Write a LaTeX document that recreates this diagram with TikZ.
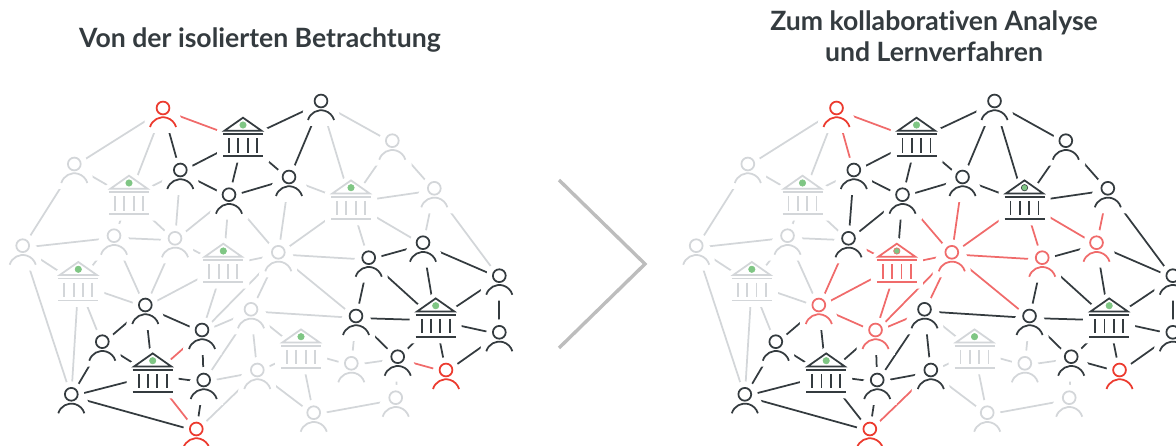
\documentclass[tikz,border=0pt]{standalone}
\usepackage{fontspec}
\setmainfont{Lato}[Ligatures=NoCommon]
\definecolor{cK}{HTML}{343B3F}
\definecolor{cG}{HTML}{D3D6D9}
\definecolor{cR}{HTML}{EC3A2E}
\definecolor{cS}{HTML}{F06B6B}
\definecolor{cD}{HTML}{7FC684}
\definecolor{cC}{HTML}{BDBDBD}
\pgfdeclarelayer{edgelayer}
\pgfdeclarelayer{halolayer}
\pgfsetlayers{edgelayer,halolayer,main}
\tikzset{
  phub/.style={circle,minimum size=10bp,inner sep=0pt,outer sep=0pt},
  bhub/.style={circle,minimum size=16bp,inner sep=0pt,outer sep=0pt},
  icon/.style={line width=1.75bp},
  edge/.style={line width=1.75bp},
  head/.style={font=\bfseries\fontsize{26.6bp}{31bp}\selectfont,text=cK,inner sep=0pt,align=center,anchor=base},
}
\newcommand\px{l}
\newcommand\pp[4]{%
  \node[phub] (\px#1) at (#2,#3+2) {};
  \begin{pgfonlayer}{halolayer}
  \begin{scope}[shift={(#2,#3)}]
    \fill[white] (0,0) circle[radius=13bp];
    \fill[white] (-13.5,0) -- (13.5,0) -- (18,10) -- (19.5,25) -- (-19.5,25) -- (-18,10) -- cycle;
  \end{scope}
  \end{pgfonlayer}
  \begin{scope}[shift={(#2,#3)},icon,draw=#4]
    \draw (0,0) circle[radius=6.4bp];
    \draw (-13,19) arc[start angle=163.4,end angle=16.6,radius=13.6bp];
  \end{scope}}
\newcommand\bk[5]{%
  \node[bhub] (\px#1) at (#2,#3+22) {};
  \begin{pgfonlayer}{halolayer}
  \begin{scope}[shift={(#2,#3)}]
    \fill[white] (0,-7) -- (26,12) -- (26,45) -- (-26,45) -- (-26,12) -- cycle;
  \end{scope}
  \end{pgfonlayer}
  \begin{scope}[shift={(#2,#3)},icon,draw=#4]
    \draw[line join=miter] (-18.5,13) -- (0,0) -- (18.5,13) -- cycle;
    \draw (-20,16.6) -- (20,16.6);
    \foreach \cx in {-14,-4.65,4.65,14} \draw (\cx,20.6) -- (\cx,35);
    \draw (-20,38.6) -- (20,38.6);
    \fill[cD,draw=#5,line width=.6bp] (0,7.3) circle[radius=3.2bp];
  \end{scope}}
\newcommand\eds[2]{\begin{pgfonlayer}{edgelayer}\foreach \a/\b in {#2} \draw[edge,#1] (\px\a) -- (\px\b);\end{pgfonlayer}}
\begin{document}
\begin{tikzpicture}[x=1bp,y=-1bp]
\useasboundingbox (0,0) rectangle (1176,446);
\node[head] (t1) at (260,47.5) {Von der isolierten Betrachtung};
\node[head] (t2) at (934,31) {Zum kollaborativen Analyse};
\node[head] (t3) at (934,62) {und Lernverfahren};
\coordinate (c1) at (559,180);
\coordinate (c2) at (645,264);
\coordinate (c3) at (559,348);
\draw[cC,line width=3.4bp] (c1) -- (c2) -- (c3);
% left panel
\foreach \n/\x/\y/\c in {A/163/108/cR,B/74.3/164/cG,C/180.3/170/cK,D/229/194.7/cK,E/289/177/cK,F/22.7/245.7/cG,G/114/235.7/cG,H/175/238.3/cG,I/278.3/252.3/cG,J/321/101/cK,K/392.3/140.7/cG,L/434.3/188.3/cG,M/423/242.7/cK,N/368.7/257.7/cK,O/145.3/305/cK,P/202/330/cK,Q/102.3/341.7/cK,R/203.7/380/cK,S/71.3/394.3/cK,T/196.3/429/cR,U/251/309.3/cG,V/257.3/370/cG,W/356/316/cK,X/397.7/356.7/cK,Y/446/370/cR,Z/499.3/275.7/cK,AA/499.3/332.3/cK,AB/351.3/363.3/cG,AC/395.7/397.7/cG,AD/313.7/412.7/cG}
  {\pp{\n}{\x}{\y}{\c}}
\foreach \n/\x/\y/\c in {ba/243/117.7/cK,bb/129/175.7/cG,bc/223.3/243.7/cG,bd/78.3/262/cG,be/152.7/353.4/cK,bf/301/329.4/cG,bg/435.7/298.4/cK,bh/351/180.4/cG}
  {\bk{\n}{\x}{\y}{\c}{cD}}
\eds{cG}{A/B,A/bb,J/bh,J/K,K/bh,K/L,L/bh,L/M,L/Z,bh/E,bh/I,bh/N,bh/M,I/N,B/bb,bb/C,B/F,bb/G,bb/H,C/H,D/H,D/bc,E/I,D/I,H/bc,G/H,F/G,bc/I,F/bd,G/bd,G/O,H/O,bc/O,bc/P,bd/O,bd/S,bd/Q,F/S,P/U,P/I,V/R,R/U,U/V,T/V,I/W,U/W,I/U,U/bf,V/bf,bf/AB,AB/X,W/AB,X/AC,AD/AC,bf/AD,V/AD}
\eds{cK}{A/C,ba/J,ba/C,ba/D,ba/E,J/E,M/N,M/Z,C/D,D/E,O/Q,O/P,O/be,Q/be,Q/S,S/be,S/T,be/R,P/R,R/T,N/W,N/bg,M/bg,bg/Z,W/bg,W/X,X/bg,bg/AA,Z/AA,bg/Y,Y/AA}
\eds{cS}{A/ba,be/P,be/T,X/Y}
% right panel
\begin{scope}[xshift=673.5bp]
\renewcommand\px{r}
\foreach \n/\x/\y/\c in {A/163/108/cR,B/74.3/164/cG,C/180.3/170/cK,D/229/194.7/cK,E/289/177/cK,F/22.7/245.7/cG,G/114/235.7/cG,H/175/238.3/cK,I/278.3/252.3/cS,J/321/101/cK,K/392.3/140.7/cK,L/434.3/188.3/cK,M/423/242.7/cS,N/368.7/257.7/cS,O/145.3/305/cS,P/202/330/cS,Q/102.3/341.7/cK,R/203.7/380/cK,S/71.3/394.3/cK,T/196.3/429/cR,U/251/309.3/cK,V/257.3/370/cK,W/356/316/cK,X/397.7/356.7/cK,Y/446/370/cR,Z/499.3/275.7/cK,AA/499.3/332.3/cK,AB/351.3/363.3/cG,AC/395.7/397.7/cG,AD/313.7/412.7/cG}
  {\pp{\n}{\x}{\y}{\c}}
\foreach \n/\x/\y/\c/\o in {ba/243/117.7/cK/cD,bb/129/175.7/cG/cD,bc/223.3/243.7/cS/cS,bd/78.3/262/cG/cD,be/152.7/353.4/cK/cD,bf/301/329.4/cG/cD,bg/435.7/298.4/cK/cD,bh/351/180.4/cK/cK}
  {\bk{\n}{\x}{\y}{\c}{\o}}
\eds{cG}{A/B,A/bb,B/bb,bb/C,B/F,bb/G,bb/H,G/H,F/G,F/bd,G/bd,G/O,bd/O,bd/S,bd/Q,F/S,U/bf,V/bf,bf/AB,AB/X,W/AB,X/AC,AD/AC,bf/AD,V/AD}
\eds{cK}{ba/J,ba/C,ba/D,ba/E,J/E,J/bh,J/K,K/bh,K/L,L/bh,L/Z,bh/E,M/N,M/Z,C/D,D/E,C/H,D/H,D/bc,O/Q,O/be,Q/be,Q/S,S/be,S/T,be/P,be/R,be/T,P/R,R/T,R/U,U/V,R/V,U/W,N/W,N/bg,M/bg,bg/Z,W/bg,W/X,X/bg,X/Y,bg/AA,Z/AA,bg/Y,Y/AA}
\eds{cS}{A/ba,A/C,L/M,bh/I,bh/N,bh/M,E/I,D/I,I/N,H/bc,bc/I,H/O,bc/O,bc/P,O/P,P/U,P/I,T/V,I/W,I/U}
\end{scope}
\end{tikzpicture}
\end{document}
